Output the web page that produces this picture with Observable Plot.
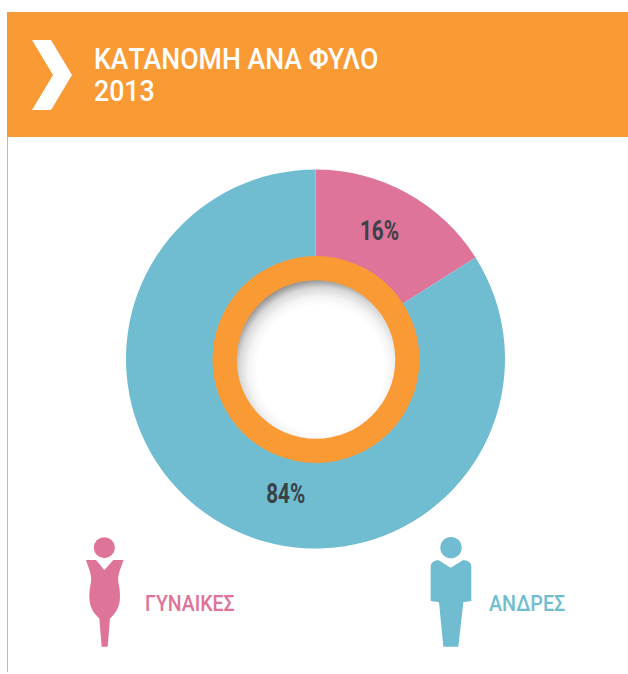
<!DOCTYPE html>
<html><head><meta charset="utf-8">
<script src="https://cdn.jsdelivr.net/npm/d3@7"></script>
<script src="https://cdn.jsdelivr.net/npm/@observablehq/plot@0.6"></script>
<style>
html,body{margin:0;padding:0;background:#fff;width:628px;height:674px;overflow:hidden;position:relative;font-family:Roboto,sans-serif}
#rule{position:absolute;left:7px;top:137px;width:1px;height:535px;background:#f4ae66}
#header{position:absolute;left:7px;top:12px;width:621px;height:125px;background:#f99a34}
#chev{position:absolute;left:32px;top:40px;width:41px;height:70px;background:#fff;clip-path:polygon(0 0,19px 0,40px 35px,19px 70px,0 70px,21px 35px)}
.t{position:absolute;left:94px;color:#fff;font-size:29px;font-weight:500;line-height:32px;white-space:nowrap;transform-origin:0 50%;transform:scaleX(.92)}
#chart{position:absolute;left:0;top:137px}
.lg{position:absolute;font-size:22px;line-height:24px;white-space:nowrap;font-weight:500;transform-origin:0 50%}
.ic{position:absolute;top:525px}
</style></head><body>
<div id="rule"></div>
<div id="header"></div><div id="chev"></div>
<div class="t" id="t1" style="top:43px"></div>
<div class="t" id="t2" style="top:75px"></div>
<div id="chart"></div>
<svg class="ic" style="left:60px" width="190" height="140" viewBox="0 0 570 420"><circle cx="133" cy="68" r="31.5" fill="#de7499"/><path fill="#de7499" d="M78 105H108L133 135L160 105H191C182 130 172 150 175 170C180 195 182 215 178 235C172 258 160 272 150 280L143 365H125L118 280C108 272 95 258 90 235C86 215 88 195 93 170C96 150 86 130 78 105Z"/></svg>
<svg class="ic" style="left:410px" width="190" height="140" viewBox="0 0 570 420"><circle cx="123" cy="68" r="32" fill="#70bdd2"/><path fill="#70bdd2" d="M62 125Q62 108 85 105L122 128L160 105Q184 108 184 125V228L160 232L145 365H100L87 232L62 228Z"/></svg>
<div class="lg" id="lg0" style="left:145px;top:592px;transform:scaleX(.885)"></div>
<div class="lg" id="lg1" style="left:489px;top:592px;transform:scaleX(.895)"></div>
<script>
const titleLines = ["ΚΑΤΑΝΟΜΗ ΑΝΑ ΦΥΛΟ", "2013"];
const categories = ["ΓΥΝΑΙΚΕΣ", "ΑΝΔΡΕΣ"];
const shares = [16, 84];
const colors = ["#de7499", "#70bdd2"];
const labelX = [0.335, -0.16];
const labelY = [0.675, -0.712];

t1.textContent = titleLines[0];
t2.textContent = titleLines[1];
categories.forEach((c, i) => {
  const el = document.getElementById("lg" + i);
  el.textContent = c; el.style.color = colors[i];
});

const table = categories.map((category, i) => ({category, share: shares[i], label: shares[i] + "%", lx: labelX[i], ly: labelY[i]}));
const R = 189.5, cx = 315.5, cy = 222;

const gradientDef = () => {
  const s = d3.create("svg:defs");
  const g = s.append("radialGradient").attr("id", "hole").attr("cx", 0.53).attr("cy", 0.56).attr("r", 0.57);
  [[0, "#fff"], [0.7, "#fff"], [0.8, "#f4f4f4"], [0.9, "#d8d8d8"], [1, "#8c8c8c"]]
    .forEach(([o, c]) => g.append("stop").attr("offset", o).attr("stop-color", c));
  return s.node();
};

const pieMark = (index, {x, y}) => {
  const arcs = d3.pie().sort(null).value(d => d.share)(table);
  const arc = d3.arc().innerRadius(0).outerRadius(x(1) - x(0));
  const g = d3.create("svg:g").attr("transform", `translate(${x(0)},${y(0)})`);
  g.selectAll("path").data(arcs).join("path")
    .attr("d", arc).attr("fill", d => colors[d.index])
    .append("title").text(d => d.data.category);
  return g.node();
};

const chart = Plot.plot({
  width: 628, height: 415, margin: 0,
  x: {domain: [-1, 1], range: [cx - R, cx + R], axis: null},
  y: {domain: [-1, 1], range: [cy + R, cy - R], axis: null},
  r: {type: "identity"},
  style: {background: "transparent", overflow: "visible"},
  marks: [
    gradientDef,
    pieMark,
    Plot.dot([0], {x: () => 0, y: () => 0, r: 103.5, fill: "#f99a34"}),
    Plot.dot([0], {x: () => 0, y: () => 0, r: 79.3, fill: "url(#hole)"}),
    Plot.text(table, {x: "lx", y: "ly", text: "label", fontSize: 27, fontWeight: 700, fill: "#3a4247", fontFamily: "Roboto"})
  ]
});
document.getElementById("chart").append(chart);
d3.select(chart).selectAll("text").attr("textLength", 39).attr("lengthAdjust", "spacingAndGlyphs");
</script>
</body></html>
